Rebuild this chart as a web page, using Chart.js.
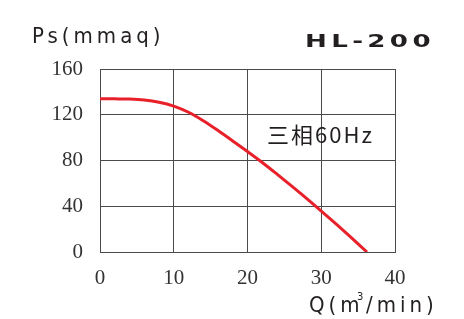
<!DOCTYPE html>
<html>
<head>
<meta charset="utf-8">
<script src="https://cdn.jsdelivr.net/npm/chart.js@4"></script>
<style>
  html, body { margin: 0; padding: 0; background: #fff; }
  #wrap { width: 464px; height: 319px; }
</style>
</head>
<body>
<div id="wrap"><canvas id="myChart" width="464" height="319"></canvas></div>
<script>
// curve: Q (m3/min) vs Ps (mmaq)
const flowQ = [0, 2, 4, 6, 8, 10, 12, 14, 16, 18, 20, 22, 24, 26, 28, 30, 32, 34, 36.2];
const pressurePs = [134, 133.9, 133.7, 132.9, 131, 127.6, 122.2, 114.8, 106.2, 97.1, 87.8, 78.3, 68.1, 57.6, 46.9, 35.8, 24.5, 13, 0];
const xTicks = [0, 10, 20, 30, 40];
const yTicks = [0, 40, 80, 120, 160];

const points = flowQ.map((q, i) => ({ x: q, y: pressurePs[i] }));

// extra labels drawn on the canvas (axis titles, model, note)
const labelsPlugin = {
  id: "labels",
  afterDraw(chart) {
    const c = chart.ctx;
    c.save();
    c.fillStyle = "#231f20";
    c.textBaseline = "alphabetic";
    c.textAlign = "left";

    c.font = "22px 'DejaVu Sans Condensed', 'DejaVu Sans'";
    c.letterSpacing = "4px";
    c.fillText("Ps(mmaq)", 32, 43);

    // wide model name: stretch horizontally
    c.save();
    c.translate(305, 47);
    c.scale(1.45, 1);
    c.font = "bold 18px 'DejaVu Sans'";
    c.letterSpacing = "3px";
    c.fillText("HL-200", 0, 0);
    c.restore();

    c.font = "22px 'Noto Sans CJK SC'";
    c.letterSpacing = "2px";
    c.fillText("三相60Hz", 267, 143);

    c.font = "22px 'DejaVu Sans Condensed', 'DejaVu Sans'";
    c.letterSpacing = "4px";
    c.fillText("Q(m", 309, 312);
    c.font = "10px 'DejaVu Sans'";
    c.letterSpacing = "0px";
    c.fillText("3", 357, 300);
    c.font = "22px 'DejaVu Sans Condensed', 'DejaVu Sans'";
    c.letterSpacing = "4px";
    c.fillText("/min)", 366, 312);
    c.restore();
  },
};

const ctx = document.getElementById("myChart").getContext("2d");
new Chart(ctx, {
  type: "scatter",
  data: {
    datasets: [
      {
        data: points,
        showLine: true,
        borderColor: "#e8202a",
        borderWidth: 3,
        pointRadius: 0,
        cubicInterpolationMode: "monotone",
        fill: false,
      },
    ],
  },
  options: {
    responsive: false,
    animation: false,
    layout: { padding: { left: 30, right: 69, top: 69, bottom: 0 } },
    plugins: { legend: { display: false }, tooltip: { enabled: false } },
    scales: {
      x: {
        type: "linear",
        min: 0,
        max: 40,
        afterBuildTicks: (s) => { s.ticks = xTicks.map((v) => ({ value: v })); },
        afterFit: (s) => { s.height = 67; },
        grid: { color: "#4a4a4a", lineWidth: 1, drawTicks: false },
        border: { color: "#4a4a4a", width: 1 },
        ticks: {
          padding: 14,
          color: "#333",
          maxRotation: 0,
          font: { family: "'Liberation Serif'", size: 21 },
        },
      },
      y: {
        min: 0,
        max: 160,
        afterBuildTicks: (s) => { s.ticks = yTicks.map((v) => ({ value: v })); },
        afterFit: (s) => { s.width = 70; },
        grid: { color: "#4a4a4a", lineWidth: 1, drawTicks: false },
        border: { color: "#4a4a4a", width: 1 },
        ticks: {
          padding: 17,
          color: "#333",
          font: { family: "'Liberation Serif'", size: 21 },
        },
      },
    },
  },
  plugins: [labelsPlugin],
});
</script>
</body>
</html>
